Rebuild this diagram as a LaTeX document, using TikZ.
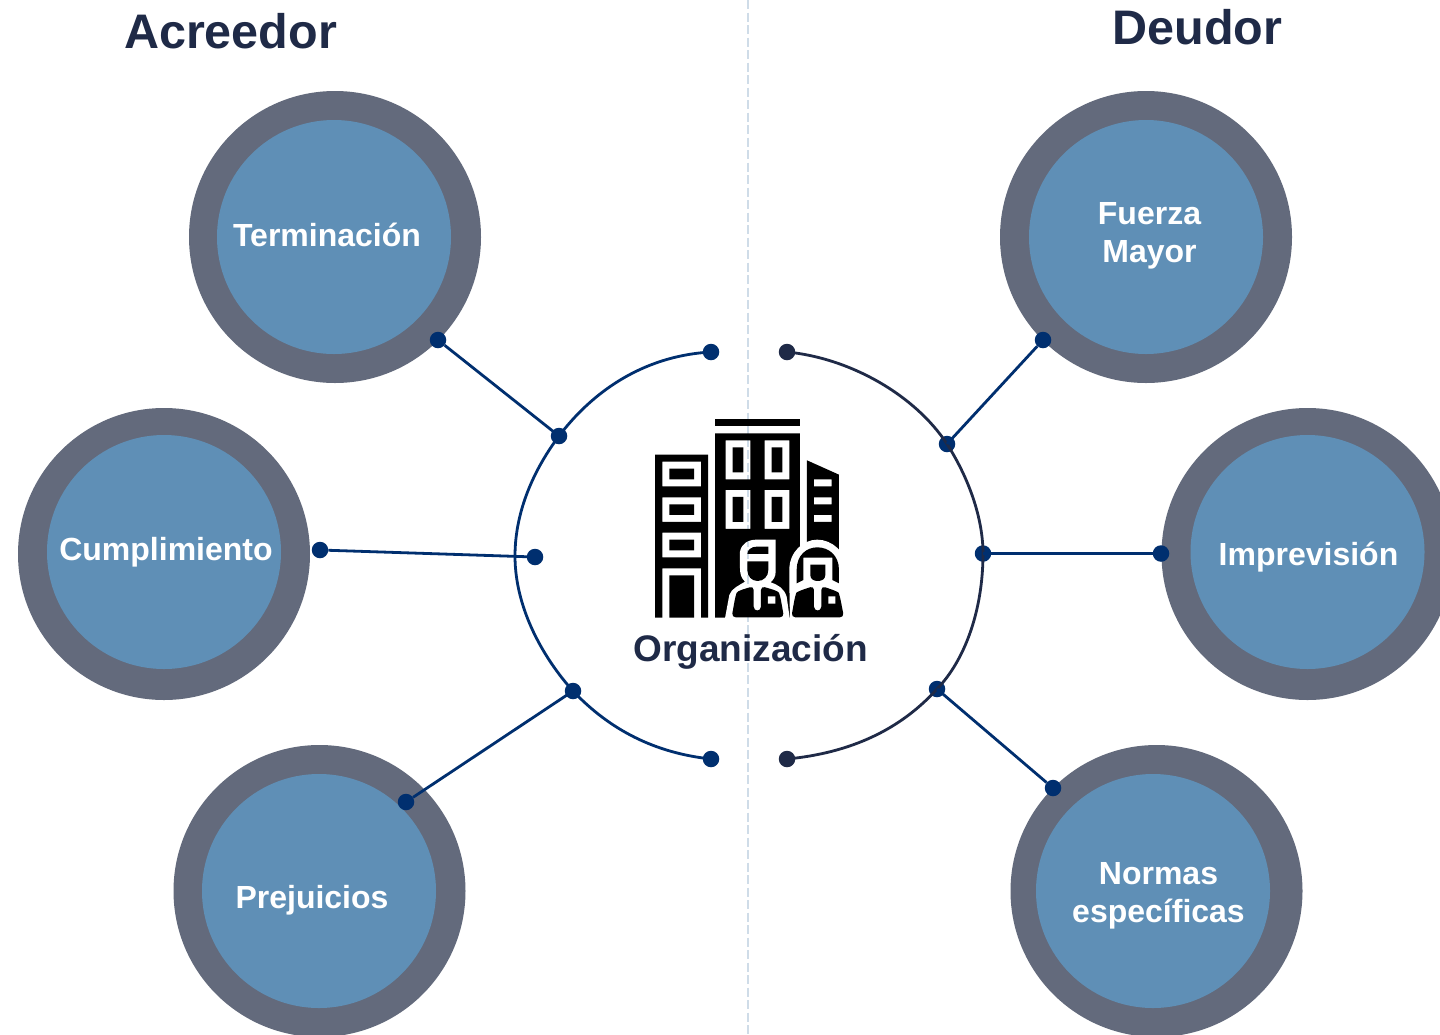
\documentclass[tikz,border=0pt]{standalone}
\usepackage{fontspec}
\setmainfont{Liberation Sans}
\definecolor{ringc}{HTML}{636A7C}
\definecolor{fillc}{HTML}{5F8FB6}
\definecolor{navy}{HTML}{002F6F}
\definecolor{darkn}{HTML}{1F2A47}
\definecolor{dashc}{HTML}{CFDCE8}
\tikzset{
 ring/.style={circle,fill=ringc,minimum size=292pt,inner sep=0pt},
 bubble/.style={circle,fill=fillc,minimum size=234pt,inner sep=0pt},
 lab/.style={text=white,font=\fontsize{32}{38}\selectfont\bfseries,align=center},
 head/.style={text=darkn,font=\fontsize{48.5}{50}\selectfont\bfseries},
 dotn/.style={circle,fill=navy,minimum size=16.5pt,inner sep=0pt},
 dotd/.style={circle,fill=darkn,minimum size=16.5pt,inner sep=0pt},
 conn/.style={draw=navy,line width=2.8pt},
 arcd/.style={draw=darkn,line width=2.8pt},
}
\begin{document}
\begin{tikzpicture}[x=1pt,y=-1pt]
\useasboundingbox (0,0) rectangle (1440,1034);
\fill[white] (0,0) rectangle (1440,1034);
\begin{scope}
\clip (0,0) rectangle (1440,1034);
\node[ring] (r1) at (335,237) {};
\node[ring] (r2) at (164,554) {};
\node[ring] (r3) at (319.5,891) {};
\node[ring] (r4) at (1146,237) {};
\node[ring] (r5) at (1307.5,554) {};
\node[ring] (r6) at (1156.5,891) {};
\node[bubble] (b1) at (334,237) {};
\node[bubble] (b2) at (164,552) {};
\node[bubble] (b3) at (319,891) {};
\node[bubble] (b4) at (1146,237) {};
\node[bubble] (b5) at (1307.5,552) {};
\node[bubble] (b6) at (1153,891) {};
\end{scope}
\node[lab] (t1) at (327,235) {Terminación};
\node[lab] (t2) at (166,552) {Cumplimiento};
\node[lab] (t3) at (312,900) {Prejuicios};
\node[lab] (t4) at (1149.5,236) {Fuerza\\Mayor};
\node[lab] (t5) at (1308.5,557) {Imprevisión};
\node[lab] (t6) at (1158.5,896) {Normas\\específicas};
\node[head] (h1) at (230.5,31) {Acreedor};
\node[head] (h2) at (1197.5,27) {Deudor};
% dots
\node[dotn] (lt) at (711,352) {};
\node[dotn] (lu) at (559,436) {};
\node[dotn] (lm) at (535,557) {};
\node[dotn] (ld) at (573,691) {};
\node[dotn] (lb) at (711,759) {};
\node[dotd] (rt) at (787,352) {};
\node[dotn] (ru) at (947,444) {};
\node[dotn] (rm) at (983,553.5) {};
\node[dotn] (rd) at (937,689) {};
\node[dotd] (rb) at (787,759) {};
\node[dotn] (c1) at (438,340) {};
\node[dotn] (c2) at (320,550) {};
\node[dotn] (c3) at (406,802) {};
\node[dotn] (c4) at (1043,340) {};
\node[dotn] (c5) at (1161,553.5) {};
\node[dotn] (c6) at (1053,788) {};
% arcs
\path[conn] (lt.center) .. controls (640,356) and (590,395) .. (lu.center)
 .. controls (535,468) and (515,510) .. (515,556)
 .. controls (515,610) and (545,660) .. (ld.center)
 .. controls (610,730) and (655,753) .. (lb.center);
\path[arcd] (rt.center) .. controls (850,358) and (915,395) .. (ru.center)
 .. controls (970,480) and (983,520) .. (rm.center)
 .. controls (983,610) and (965,660) .. (rd.center)
 .. controls (900,730) and (850,753) .. (rb.center);
\path[conn] (c1) -- (lu.center);
\path[conn] (c2) -- (lm.center);
\path[conn] (c3) -- (ld.center);
\path[conn] (c4) -- (ru.center);
\path[conn] (c5) -- (rm.center);
\path[conn] (c6) -- (rd.center);
% building icon
\begin{scope}[shift={(630,400)},x=0.3333pt,y=-0.3333pt]
\fill[black] (255,57) rectangle (510,79);
\fill[black,even odd rule] (255,653) rectangle (510,100)
 (287,121) rectangle (361,238) (404,121) rectangle (478,238)
 (287,270) rectangle (361,387) (404,270) rectangle (478,387);
\fill[black] (308,142) rectangle (340,217) (425,142) rectangle (457,217)
 (308,291) rectangle (340,366) (425,291) rectangle (457,366);
\fill[black,even odd rule] (75,653) -- (75,164) -- (234,164) -- (234,653) -- (213,653) -- (213,505) -- (97,505) -- (97,653) -- cycle
 (97,185) rectangle (213,259) (97,292) rectangle (213,366) (97,398) rectangle (213,472);
\fill[black] (118,206) rectangle (192,238) (118,313) rectangle (192,345) (118,419) rectangle (192,451) (118,526) rectangle (192,653);
\fill[black,even odd rule] (531,181) -- (627,224) -- (627,500) -- (531,500) -- cycle
 (552,238) rectangle (605,259) (552,292) rectangle (605,313) (552,345) rectangle (605,366);
% white surrounds of the figures
\fill[white] (510,440) -- (520,440) -- (520,660) -- (510,660) -- cycle;
\fill[white] (284,660) -- (298,585) .. controls (304,565) and (330,555) .. (345,545)
 .. controls (335,535) and (330,525) .. (330,505) -- (330,455) .. controls (335,430) and (355,419) .. (380,419)
 -- (437,419) -- (437,515) .. controls (437,530) and (430,540) .. (422,547)
 .. controls (445,555) and (462,565) .. (470,590) -- (480,660) -- cycle;
\fill[white] (480,660) -- (478,550) -- (478,510) .. controls (478,455) and (520,419) .. (562,419)
 .. controls (605,419) and (650,455) .. (650,510) -- (650,590) -- (650,660) -- cycle;
% man
\fill[black] (352,462) .. controls (352,449) and (365,440) .. (380,440) -- (415,440) -- (415,462) -- cycle;
\fill[black] (352,484) -- (415,484) -- (415,510) .. controls (415,530) and (400,543) .. (383,543) .. controls (366,543) and (352,530) .. (352,510) -- cycle;
\fill[black,rounded corners=4pt] (305,652) -- (316,590) .. controls (322,572) and (350,565) .. (371,558) -- (371,632) -- (393,632) -- (393,558) .. controls (415,565) and (445,572) .. (451,590) -- (462,652) -- cycle;
% woman
\fill[black] (500,550) -- (500,510) .. controls (500,465) and (530,442) .. (562,442) .. controls (595,442) and (627,465) .. (627,510) -- (627,550) -- (607,540) -- (607,473) -- (520,473) -- (520,540) -- cycle;
\fill[black] (541,494) -- (586,494) -- (586,525) .. controls (586,538) and (575,543) .. (563,543) .. controls (552,543) and (541,538) .. (541,525) -- cycle;
\fill[black,rounded corners=4pt] (484,652) -- (495,590) .. controls (500,575) and (530,565) .. (552,558) -- (552,632) -- (574,632) -- (574,558) .. controls (595,565) and (625,575) .. (630,590) -- (642,652) -- cycle;
\fill[white] (414,589) rectangle (436,611) (595,589) rectangle (616,611);
\end{scope}
\begin{scope}[blend mode=multiply]
\draw[dashc,line width=1.6pt,dash pattern=on 9pt off 3.5pt] (748,0) -- (748,1034);
\end{scope}
\node[text=darkn,font=\fontsize{37}{40}\selectfont\bfseries] (org) at (750.5,652) {Organización};
\end{tikzpicture}
\end{document}
